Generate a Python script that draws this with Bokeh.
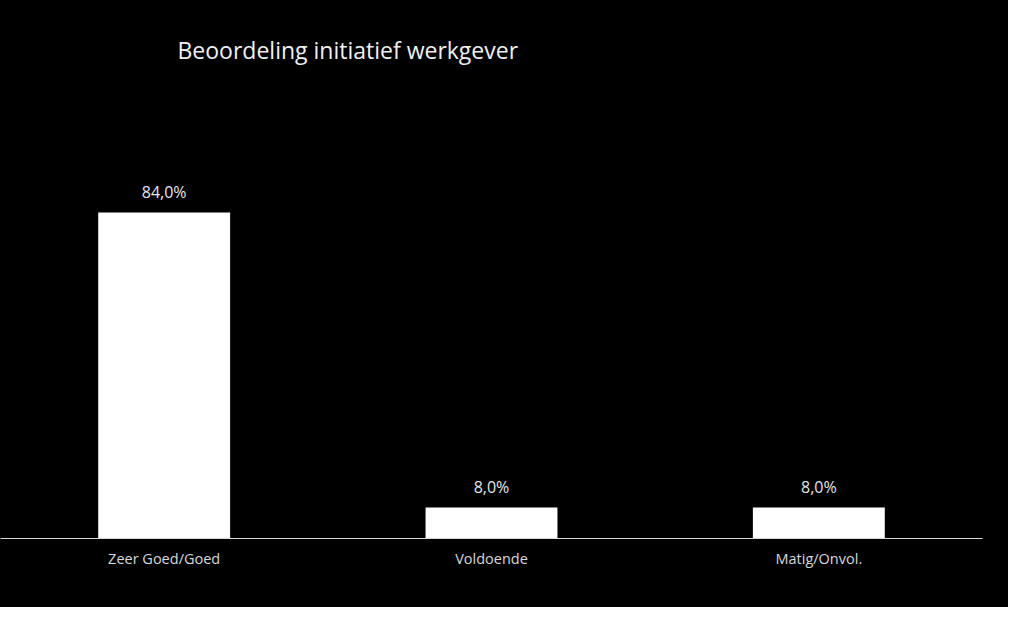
from bokeh.plotting import figure
from bokeh.models import ColumnDataSource, LabelSet
from bokeh.core.properties import value
from bokeh.embed import file_html
from bokeh.resources import INLINE

categories = ["Zeer Goed/Goed", "Voldoende", "Matig/Onvol."]
values = [84.0, 8.0, 8.0]
value_labels = ["84,0%", "8,0%", "8,0%"]
title_text = "Beoordeling initiatief werkgever"

src = ColumnDataSource(dict(cat=categories, val=values, lab=value_labels))

p = figure(x_range=categories, y_range=(0, 118.0), width=1008, height=607,
           output_backend="svg", toolbar_location=None,
           min_border_left=0, min_border_right=26, min_border_top=80, min_border_bottom=69)
p.x_range.range_padding = 0
p.styles = {"background-color": "black"}

p.background_fill_color = "black"
p.border_fill_color = "black"
p.outline_line_color = None

p.vbar(x="cat", top="val", width=0.403, source=src, fill_color="white", line_color=None)

labels = LabelSet(x="cat", y="val", text="lab", source=src, text_align="center",
                  text_baseline="alphabetic", y_offset=14, text_color="#e6e6e6",
                  text_font_size="16px", text_font=value("Open Sans"))
p.add_layout(labels)

p.title.text = title_text
p.title.text_color = "#f0f0f0"
p.title.text_font = "Open Sans"
p.title.text_font_size = "23px"
p.title.text_font_style = "normal"
p.title.align = "left"
p.title.offset = 177
p.title.standoff = 30

p.yaxis.visible = False
p.xgrid.grid_line_color = None
p.ygrid.grid_line_color = None

ax = p.xaxis[0]
ax.axis_line_color = "#d9d9d9"
ax.axis_line_width = 1
ax.major_tick_line_color = None
ax.major_tick_out = 0
ax.major_tick_in = 0
ax.minor_tick_line_color = None
ax.major_label_standoff = 10
ax.major_label_text_color = "#d9d9d9"
ax.major_label_text_font = "Open Sans"
ax.major_label_text_font_size = "14.5px"

open("out.html", "w").write(file_html(p, INLINE))
